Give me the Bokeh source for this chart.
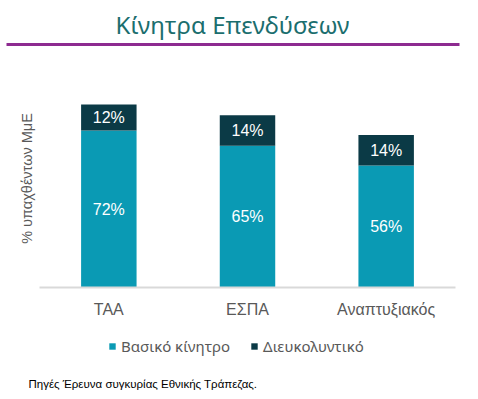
from bokeh.plotting import figure
from bokeh.models import (ColumnDataSource, FactorRange, Range1d, Legend, LegendItem)
from bokeh.layouts import column
from bokeh.core.properties import value
from bokeh.embed import file_html
from bokeh.resources import INLINE

categories = ["ΤΑΑ", "ΕΣΠΑ", "Αναπτυξιακός"]
basic = [72, 65, 56]
facilitating = [12, 14, 14]
series_names = ["Βασικό κίνητρο", "Διευκολυντικό"]
title_text = "Κίνητρα Επενδύσεων"
ylabel_text = "% υπαχθέντων ΜμΕ"
source_text = "Πηγές Έρευνα συγκυρίας Εθνικής Τράπεζας."

TEAL = "#0a9ab4"
DARK = "#0b3a46"
GRAY = "#595959"
W = 470
NAN = float("nan")

# ---------- header: title + purple rule ----------
HH = 60
head = figure(width=W, height=HH, x_range=Range1d(0, W), y_range=Range1d(HH, 0),
              min_border=0, x_axis_location=None, y_axis_location=None,
              output_backend="svg", toolbar_location=None)
head.frame_align = False
head.outline_line_color = None
head.grid.visible = False
head.text(x=[232], y=[24], text=[title_text], text_font=value("Noto Sans"),
          text_font_size="24px", text_color="#1b6e6e", text_align="center",
          text_baseline="middle")
head.segment(x0=[6], y0=[44], x1=[459], y1=[44], line_color="#8d2a90", line_width=3)

# ---------- main bar chart ----------
src = ColumnDataSource(dict(
    cat=categories,
    basic=basic,
    fac=facilitating,
    basic_mid=[b / 2 for b in basic],
    fac_mid=[b + f / 2 for b, f in zip(basic, facilitating)],
    basic_lbl=[f"{b}%" for b in basic],
    fac_lbl=[f"{f}%" for f in facilitating],
))

p = figure(x_range=FactorRange(*categories, range_padding=0), y_range=Range1d(0, 100),
           frame_width=416, frame_height=218,
           min_border_left=39, min_border_right=15, min_border_top=9, min_border_bottom=36,
           output_backend="svg", toolbar_location=None)
p.frame_align = False
p.outline_line_color = None
p.xgrid.visible = False
p.ygrid.visible = False

r = p.vbar_stack(["basic", "fac"], x="cat", width=0.4, source=src,
                 color=[TEAL, DARK], line_color=None)

for ycol, tcol in (("basic_mid", "basic_lbl"), ("fac_mid", "fac_lbl")):
    p.text(x="cat", y=ycol, text=tcol, source=src, text_color="white",
           text_font=value("Liberation Sans"), text_font_size="16px",
           text_align="center", text_baseline="middle")

ax = p.xaxis[0]
ax.axis_line_color = "#d9d9d9"
ax.axis_line_width = 2
ax.major_tick_line_color = None
ax.minor_tick_line_color = None
ax.major_tick_out = 0
ax.major_label_standoff = 13
ax.major_label_text_font = "Liberation Sans"
ax.major_label_text_font_size = "16px"
ax.major_label_text_color = GRAY

ay = p.yaxis[0]
ay.ticker = []
ay.axis_label = ylabel_text
ay.axis_label_text_font = "Liberation Sans"
ay.axis_label_text_font_size = "14.5px"
ay.axis_label_text_font_style = "normal"
ay.axis_label_text_color = GRAY
ay.axis_label_standoff = 5
ay.axis_line_color = None
ay.major_tick_line_color = None
ay.minor_tick_line_color = None
ay.major_tick_out = 0
ay.major_label_standoff = 0

# ---------- footer: legend + source ----------
FH = 72
foot = figure(width=W, height=FH, x_range=Range1d(0, W), y_range=Range1d(FH, 0),
              min_border=0, x_axis_location=None, y_axis_location=None,
              output_backend="svg", toolbar_location=None)
foot.frame_align = False
foot.outline_line_color = None
foot.grid.visible = False
lr1 = foot.vbar(x=[NAN], top=[NAN], width=1, fill_color=TEAL, line_color=None)
lr2 = foot.vbar(x=[NAN], top=[NAN], width=1, fill_color=DARK, line_color=None)
legend = Legend(items=[LegendItem(label=series_names[0], renderers=[lr1]),
                       LegendItem(label=series_names[1], renderers=[lr2])],
                location=(108, 39), orientation="horizontal",
                glyph_width=8, glyph_height=8, label_standoff=5, spacing=20,
                padding=0, margin=0, border_line_alpha=0, background_fill_alpha=0,
                label_text_font="Noto Sans", label_text_font_size="15px",
                label_text_color=GRAY, label_height=16)
foot.add_layout(legend, "center")
foot.text(x=[28], y=[60], text=[source_text], text_font=value("Liberation Sans"),
          text_font_size="11.5px", text_color="black", text_align="left",
          text_baseline="middle")

layout = column(head, p, foot, spacing=0)
open("out.html", "w").write(file_html(layout, INLINE))
